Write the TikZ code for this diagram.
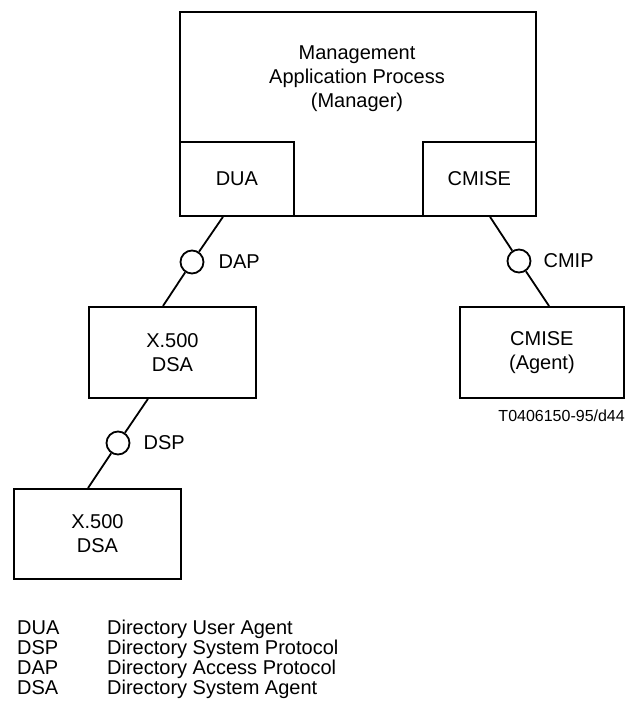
\documentclass[tikz,border=0pt]{standalone}
\usepackage{fontspec}
\setmainfont{Liberation Sans}
\usetikzlibrary{positioning,calc}

\begin{document}
\begin{tikzpicture}[
  x=1pt, y=-1pt,
  font=\fontsize{20}{24}\selectfont,
  box/.style={draw, line width=1.8pt, align=center, inner sep=0pt},
  iface/.style={circle, draw, line width=1.8pt, minimum size=23pt, inner sep=0pt},
  link/.style={line width=1.8pt},
  lbl/.style={inner sep=0pt},
  key/.style={anchor=base west, inner sep=0pt},
]
\useasboundingbox (0,0) rectangle (626,711);

% --- manager ---
\node[box, anchor=north west, minimum width=356pt, minimum height=204pt] (map) at (179,11) {};
\node[align=center] (maptext) at (357,79) {Management\\ Application Process\\ (Manager)};
\node[box, anchor=south west, minimum width=114pt, minimum height=74pt] (dua) at (map.south west) {DUA};
\node[box, anchor=south east, minimum width=113pt, minimum height=74pt] (cmise) at (map.south east) {CMISE};

% --- directory side ---
\node[iface] (dap) at (192,262) {};
\node[lbl, right=14pt of dap] (daplbl) {DAP};
\node[box, anchor=north west, minimum width=167pt, minimum height=91pt] (dsa1) at (88,306) {X.500\\ DSA};
\node[iface] (dsp) at (118,443) {};
\node[lbl, right=13pt of dsp] (dsplbl) {DSP};
\node[box, anchor=north west, minimum width=167pt, minimum height=90pt] (dsa2) at (13,488) {X.500\\ DSA};

% --- agent side ---
\node[iface] (cmip) at (519,261) {};
\node[lbl, right=12pt of cmip] (cmiplbl) {CMIP};
\node[box, anchor=north west, minimum width=164pt, minimum height=91pt] (agent) at (459,306) {CMISE\\ (Agent)};
\node[lbl, anchor=east, font=\fontsize{16}{19}\selectfont] (tag) at (625,416) {T0406150-95/d44};

% --- links ---
\draw[link] ($(dua.south west)+(44,0)$) -- (dap);
\draw[link] (dap) -- ($(dsa1.north west)+(75,0)$);
\draw[link] ($(dsa1.south west)+(60,0)$) -- (dsp);
\draw[link] (dsp) -- ($(dsa2.north west)+(75,0)$);
\draw[link] ($(cmise.south west)+(68,0)$) -- (cmip);
\draw[link] (cmip) -- ($(agent.north west)+(90,0)$);

% --- legend ---
\node[key] (kdua) at (17,634) {DUA};
\node[key] (tdua) at (107,634) {Directory User Agent};
\node[key] (kdsp) at (17,654) {DSP};
\node[key] (tdsp) at (107,654) {Directory System Protocol};
\node[key] (kdap) at (17,674) {DAP};
\node[key] (tdap) at (107,674) {Directory Access Protocol};
\node[key] (kdsa) at (17,694) {DSA};
\node[key] (tdsa) at (107,694) {Directory System Agent};
\end{tikzpicture}
\end{document}
